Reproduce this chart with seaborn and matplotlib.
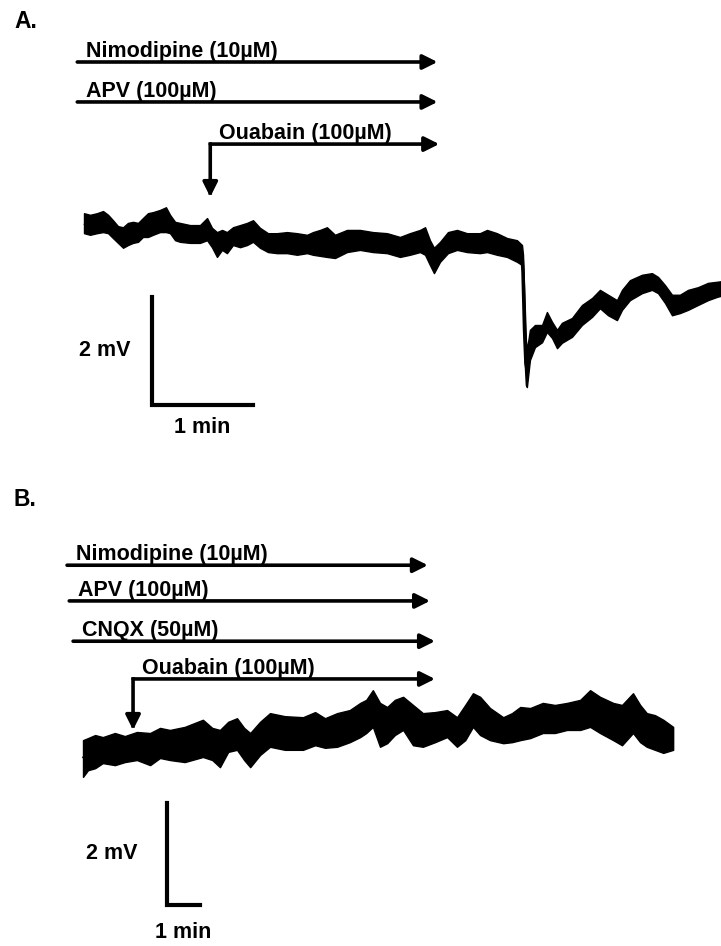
import matplotlib.pyplot as plt
import seaborn as sns
import pandas as pd

# --- Panel A recording: time (s from start of trace), noise envelope (mV, rel. to start) ---
time_a = [0, 3.6, 7.7, 11.3, 14.3, 17.2, 20.2, 23.2, 26.1, 29.1, 32.1, 35.0, 38.0, 41.0,
          45.1, 48.7, 51.1, 54.1, 57.0, 63.0, 68.9, 73.1, 76.0, 79.0, 82.0, 84.9, 88.5,
          92.7, 96.8, 100.4, 104.5, 109.3, 114.6, 120.6, 126.5, 132.5, 136.0, 140.2,
          144.3, 149.1, 156.2, 163.9, 171.7, 180.0, 187.7, 193.6, 199.6, 202.6, 205.5,
          207.9, 211.5, 216.2, 221.6, 227.5, 235.2, 239.4, 245.3, 251.3, 257.2, 260.2,
          260.8, 261.7, 262.5, 263.1, 264.9, 267.9, 272.1, 275.0, 278.0, 281.0, 283.9,
          289.9, 295.8, 301.8, 306.5, 311.3, 316.6, 319.6, 324.3, 331.5, 337.4, 341.0,
          345.1, 349.3, 354.0, 358.8, 364.7, 370.7, 376.0, 378.4]
upper_a = [0.20, 0.17, 0.20, 0.24, 0.17, 0.07, -0.04, -0.06, 0.02, 0.04, 0.02, 0.11,
           0.20, 0.22, 0.26, 0.31, 0.17, 0.04, 0.02, -0.02, -0.02, 0.11, -0.07, -0.15,
           -0.11, -0.15, -0.06, -0.02, 0.02, 0.07, -0.07, -0.17, -0.17, -0.15, -0.17,
           -0.20, -0.15, -0.11, -0.06, -0.20, -0.11, -0.11, -0.15, -0.17, -0.24, -0.17,
           -0.11, -0.06, -0.30, -0.44, -0.33, -0.15, -0.11, -0.17, -0.17, -0.11, -0.17,
           -0.26, -0.30, -0.39, -0.57, -1.41, -2.15, -2.33, -1.96, -1.87, -1.87, -1.63,
           -1.81, -1.96, -1.83, -1.74, -1.50, -1.37, -1.22, -1.31, -1.41, -1.22, -1.04,
           -0.94, -0.91, -0.98, -1.13, -1.31, -1.31, -1.22, -1.17, -1.09, -1.07, -1.06]
lower_a = [-0.17, -0.20, -0.17, -0.15, -0.17, -0.26, -0.35, -0.44, -0.39, -0.35, -0.33,
           -0.24, -0.24, -0.20, -0.15, -0.15, -0.17, -0.30, -0.33, -0.35, -0.35, -0.30,
           -0.43, -0.61, -0.48, -0.54, -0.39, -0.43, -0.39, -0.33, -0.44, -0.52, -0.54,
           -0.54, -0.57, -0.54, -0.57, -0.59, -0.61, -0.63, -0.52, -0.48, -0.52, -0.54,
           -0.61, -0.57, -0.52, -0.57, -0.76, -0.91, -0.70, -0.54, -0.48, -0.52, -0.54,
           -0.52, -0.57, -0.61, -0.70, -0.76, -1.22, -2.52, -2.98, -3.02, -2.52, -2.28,
           -2.19, -2.00, -2.11, -2.30, -2.20, -2.09, -1.87, -1.72, -1.56, -1.69, -1.78,
           -1.59, -1.41, -1.28, -1.22, -1.28, -1.46, -1.69, -1.65, -1.59, -1.50, -1.41,
           -1.35, -1.33]

# --- Panel B recording ---
time_b = [0, 9, 22, 36, 58, 76, 98, 122, 140, 158, 185, 218, 235, 249, 264, 280, 293, 304,
          322, 340, 367, 400, 422, 440, 462, 485, 504, 515, 527, 540, 553, 567, 582, 600,
          618, 640, 662, 680, 695, 709, 722, 740, 764, 780, 795, 813, 836, 858, 880, 904,
          922, 940, 964, 980, 1000, 1013, 1025, 1040, 1055, 1073]
upper_b = [0.35, 0.39, 0.45, 0.41, 0.49, 0.43, 0.51, 0.49, 0.59, 0.55, 0.61, 0.75, 0.59,
           0.55, 0.71, 0.78, 0.59, 0.49, 0.71, 0.88, 0.82, 0.80, 0.90, 0.78, 0.88, 0.94,
           1.08, 1.14, 1.33, 1.08, 1.00, 1.14, 1.20, 1.04, 0.88, 0.90, 0.94, 0.80, 1.04,
           1.27, 1.20, 0.98, 0.80, 0.88, 1.00, 0.98, 1.08, 1.04, 1.08, 1.14, 1.33, 1.20,
           1.08, 1.04, 1.27, 1.04, 0.88, 0.84, 0.75, 0.61]
lower_b = [-0.37, -0.24, -0.20, -0.10, -0.14, -0.08, -0.04, -0.14, 0.00, -0.04, -0.08,
           0.02, -0.04, -0.18, 0.12, 0.16, -0.04, -0.18, 0.06, 0.22, 0.16, 0.16, 0.25,
           0.20, 0.22, 0.31, 0.41, 0.49, 0.61, 0.22, 0.29, 0.45, 0.55, 0.25, 0.22, 0.31,
           0.41, 0.22, 0.35, 0.61, 0.45, 0.35, 0.29, 0.31, 0.35, 0.39, 0.49, 0.49, 0.55,
           0.55, 0.61, 0.49, 0.35, 0.25, 0.49, 0.31, 0.22, 0.16, 0.10, 0.16]

# --- Drug applications (s) ---
drugs_a = ["Nimodipine (10µM)", "APV (100µM)", "Ouabain (100µM)"]
on_a = [-4, -4, 75]
off_a = [210, 210, 211]
drugs_b = ["Nimodipine (10µM)", "APV (100µM)", "CNQX (50µM)", "Ouabain (100µM)"]
on_b = [-29, -25, -18, 91]
off_b = [627, 631, 640, 640]

FONT = ['Liberation Sans', 'DejaVu Sans']
W, H = 721, 946
TXT = dict(fontsize=15.5, fontweight='bold', family=FONT, color='black')


def draw_panel(ax, time, upper, lower, drugs, on, off, bar_y, tip_y, sb_t, sb_v,
               mv_dx, min_dy):
    df = pd.DataFrame({'t': time, 'hi': upper, 'lo': lower})
    df['mid'] = (df['hi'] + df['lo']) / 2
    ax.fill_between(df['t'], df['lo'], df['hi'], color='black', lw=1.0, edgecolor='black')
    sns.lineplot(data=df, x='t', y='mid', ax=ax, color='black', lw=2.5,
                 solid_capstyle='butt')

    # drug bars
    for name, t0, t1, y in zip(drugs, on, off, bar_y):
        ax.annotate('', xy=(t1, y), xytext=(t0, y),
                    arrowprops=dict(arrowstyle='-|>', lw=2.6, color='black',
                                    mutation_scale=22, shrinkA=0, shrinkB=0))
        ax.annotate(name, xy=(t0, y), xytext=(9, 5), textcoords='offset pixels',
                    ha='left', va='baseline', **TXT)
    # ouabain drop arrow
    ax.annotate('', xy=(on[-1], tip_y), xytext=(on[-1], bar_y[-1]),
                arrowprops=dict(arrowstyle='-|>', lw=2.6, color='black',
                                mutation_scale=22, shrinkA=0, shrinkB=0,
                                capstyle='projecting'))

    # scale bars: 1 min x 2 mV
    ax.plot([sb_t, sb_t, sb_t + 60], [sb_v + 2, sb_v, sb_v], color='black', lw=3,
            solid_joinstyle='miter', solid_capstyle='projecting')
    ax.annotate('2 mV', xy=(sb_t, sb_v + 1), xytext=(mv_dx, 0), textcoords='offset pixels',
                ha='right', va='center', **TXT)
    ax.annotate('1 min', xy=(sb_t + 30, sb_v), xytext=(0, min_dy), textcoords='offset pixels',
                ha='center', va='top', **TXT)
    ax.set_axis_off()


sns.set_style('white')
plt.rcParams['font.family'] = FONT
fig = plt.figure(figsize=(W / 100, H / 100), dpi=100)

# top panel covers pixel rows 0-470, bottom 470-946
ax_a = fig.add_axes([0, 1 - 470 / H, 1, 470 / H])
ax_b = fig.add_axes([0, 0, 1, 476 / H])

# panel A: 101 px per min, 54 px per mV, trace starts at x=84, y=224
ppa_t, ppa_v = 101 / 60, 54
ax_a.set_xlim(-84 / ppa_t, (W - 84) / ppa_t)
ax_a.set_ylim((224 - 470) / ppa_v, 224 / ppa_v)
draw_panel(ax_a, time_a, upper_a, lower_a, drugs_a, on_a, off_a,
           [3.0, 2.26, 1.48], 0.50, 40.4, -3.35, -22, -12)

# panel B: 33 px per min, 51 px per mV, trace starts at x=83, y=758
ppb_t, ppb_v = 33 / 60, 51
ax_b.set_xlim(-83 / ppb_t, (W - 83) / ppb_t)
ax_b.set_ylim((758 - 946) / ppb_v, (758 - 470) / ppb_v)
draw_panel(ax_b, time_b, upper_b, lower_b, drugs_b, on_b, off_b,
           [3.78, 3.08, 2.29, 1.55], 0.55, 152.7, -2.88, -29, -17)

fig.text(14 / W, 1 - 21 / H, 'A.', fontsize=16.5, fontweight='bold', va='center',
         ha='left', color='black')
fig.text(14 / W, 1 - 499 / H, 'B.', fontsize=16.5, fontweight='bold', va='center',
         ha='left', color='black')

fig.savefig('out.png', dpi=100)
